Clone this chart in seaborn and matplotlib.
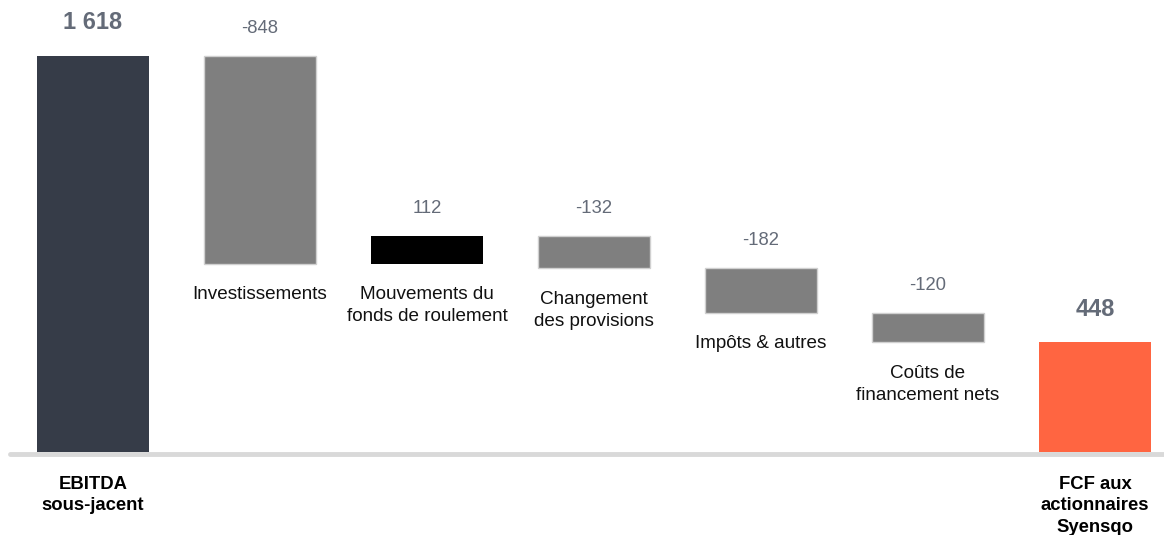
import matplotlib
matplotlib.use('Agg')
import matplotlib.pyplot as plt
import seaborn as sns
import pandas as pd

# Waterfall data
categories = ['EBITDA\nsous-jacent', 'Investissements', 'Mouvements du\nfonds de roulement',
              'Changement\ndes provisions', 'Impôts & autres', 'Coûts de\nfinancement nets',
              'FCF aux\nactionnaires\nSyensqo']
deltas = [1618, -848, 112, -132, -182, -120, 448]
kinds = ['total', 'step', 'step', 'step', 'step', 'step', 'total']
value_labels = ['1 618', '-848', '112', '-132', '-182', '-120', '448']
colors = ['#363c48', '#7f7f7f', '#000000', '#7f7f7f', '#7f7f7f', '#7f7f7f', '#ff6541']

# floating bars: bottom / height from running total
bottoms, heights = [], []
running = 0
for d, k in zip(deltas, kinds):
    if k == 'total':
        bottoms.append(0)
        heights.append(d)
        running = d
    else:
        new = running + d
        bottoms.append(min(running, new))
        heights.append(abs(d))
        running = new

df = pd.DataFrame({'cat': categories, 'height': heights})

sns.set_theme(style='white')
plt.rcParams['font.family'] = ['Liberation Sans', 'DejaVu Sans']

fig = plt.figure(figsize=(11.64, 5.35), dpi=100)
ax = fig.add_axes([0, 0, 1, 1])

sns.barplot(data=df, x='cat', y='height', order=categories, bottom=bottoms,
            color='#7f7f7f', saturation=1, width=0.67, ax=ax, errorbar=None, zorder=2)
for p, c, k in zip(ax.patches, colors, kinds):
    p.set_facecolor(c)
    if c == '#7f7f7f':
        p.set_edgecolor('#d0d0d0')
        p.set_linewidth(1)
    else:
        p.set_edgecolor(c)
        p.set_linewidth(0)

ax.set_xlim(-0.557, 6.413)
ax.set_ylim(-339, 1847)
ax.axhline(-6, xmin=10 / 1164, xmax=1, color='#d9d9d9', lw=3.5, zorder=1)
ax.axis('off')

label_col = '#646b78'
for i, (b, h, k) in enumerate(zip(bottoms, heights, kinds)):
    top = b + h
    if k == 'total':
        ax.annotate(value_labels[i], (i, top), xytext=(0, 24), textcoords='offset points',
                    ha='center', va='center', fontsize=17, fontweight='bold', color=label_col)
        ax.annotate(categories[i], (i, 0), xytext=(0, -17), textcoords='offset points',
                    ha='center', va='top', fontsize=13.3, fontweight='bold', color='black',
                    linespacing=1.35)
    else:
        ax.annotate(value_labels[i], (i, top), xytext=(0, 20), textcoords='offset points',
                    ha='center', va='center', fontsize=13.3, color=label_col)
        ax.annotate(categories[i], (i, b), xytext=(0, -16), textcoords='offset points',
                    ha='center', va='top', fontsize=13.6, color='#111111',
                    linespacing=1.4)

fig.savefig('out.png', dpi=100)
